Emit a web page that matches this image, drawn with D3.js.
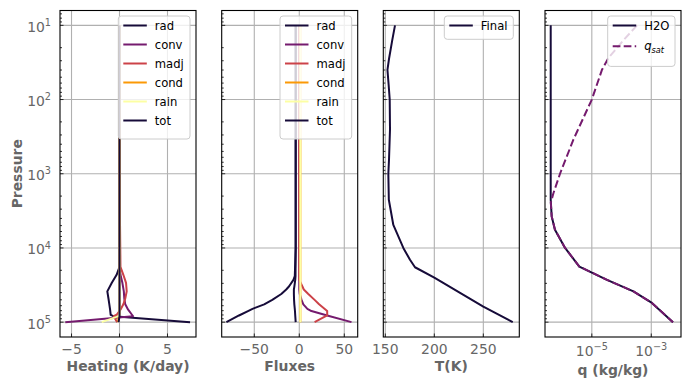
<!DOCTYPE html>
<html>
<head>
<meta charset="utf-8">
<script src="https://cdn.jsdelivr.net/npm/d3@7"></script>
<style>
  body { margin: 0; background: #fff; }
  svg { display: block; }
  text { font-family: "DejaVu Sans", sans-serif; }
</style>
</head>
<body>
<script>
// heating rates (K/day) on pressure levels (Pa)
const heatP    = [10, 1000, 18000, 23000, 29500, 38500, 48000, 57500, 68000, 79500, 83000, 100000];
const heatRad  = [0, 0, 0, -0.3, -0.8, -1.27, -1.15, -1.06, -0.98, -0.92, -0.64, 7.35];
const heatConv = [0, 0, 0, 0.1, 0.3, 0.45, 0.5, 0.6, 0.9, 1.3, 1.4, -5.65];
const heatMadj = [0, 0, 0.1, 0.4, 0.68, 0.75, 0.6, 0.4, 0.1, -0.3, -0.6, -0.25];
const heatCond = [0, 0, 0, 0, 0, 0, 0, 0, 0, 0, -0.1, -0.15];
const heatRain = [0, 0, 0, 0, 0, 0, 0, 0, 0, 0, -0.1, -1.85];
const heatTot  = [0, 0, 0, 0, 0, 0, 0, 0, 0, 0, 0, -0.1];

// fluxes
const fluxP    = [10, 1000, 10000, 24000, 26900, 33100, 36300, 41700, 50100, 57500, 66100, 70800, 81300, 100000];
const fluxRad  = [-4, -4, -4, -5, -6.5, -11.5, -14.5, -20, -30, -39, -52, -57, -67, -81];
const fluxConv = [0, 0, 0, 0, 0, 0, 0, 0.5, 2.5, 4.5, 9, 13.5, 31, 58];
const fluxMadj = [0, 0, 0, 0, 0, 3.5, 5, 10, 17, 22, 28, 31, 31, 17];
const fluxCond = [1.2, 1.2, 1.2, 1.2, 1.2, 1.2, 1.2, 1.2, 1.2, 1.2, 1.2, 1.2, 1.2, 1.2];
const fluxRain = [1.2, 1.2, 1.2, 1.2, 1.2, 1.2, 1.2, 1.2, 1.2, 1.2, 1.2, 1.2, 1.2, 1.2];
const fluxTot  = [-4, -4, -4, -4.2, -4.5, -5.5, -6, -6, -5.8, -5.5, -5, -4.8, -4.5, -4];

// temperature (K)
const tempP     = [10, 15.8, 28.2, 39.8, 63.1, 100, 251, 631, 1000, 2240, 4900, 10000, 14450, 18200, 25100, 61700, 100000];
const tempFinal = [159.9, 157.1, 153.8, 152.2, 153.4, 154.5, 154.8, 153.8, 153.1, 153.6, 158.2, 168.4, 175.2, 180.3, 200, 250, 280];

// specific humidity (kg/kg)
const h2oP = [10, 2240, 3760, 5680, 10000, 17800, 26900, 38500, 55000, 100000];
const h2oQ = [4.14e-7, 4.14e-7, 4.47e-7, 5.75e-7, 1.26e-6, 3.80e-6, 3.24e-5, 2.51e-4, 1.05e-3, 5.37e-3];
const qsatP = [10, 15.8, 27.5, 39.8, 100, 347, 1000, 1820, 2450, 3760, 5680, 10000, 17800, 26900, 38500, 55000, 100000];
const qsatQ = [3.31e-4, 1.17e-4, 3.63e-5, 2.19e-5, 1.0e-5, 2.40e-6, 8.51e-7, 5.13e-7, 4.17e-7, 4.47e-7, 5.75e-7, 1.26e-6, 3.80e-6, 3.24e-5, 2.51e-4, 1.05e-3, 5.37e-3];

const termNames = ["rad", "conv", "madj", "cond", "rain", "tot"];
const yTicks = [10, 100, 1000, 10000, 100000];

const cmap = [0.1, 0.325, 0.55, 0.775, 1.0].map(d3.interpolateInferno);
const termColors = [...cmap, cmap[0]];
const textCol = "#666666";

const yTop = 10.5, yBot = 337, pw = 136;
const lefts = [60, 221.7, 383.3, 545];

const svg = d3.select("body").append("svg").attr("width", 690).attr("height", 390);
const y = d3.scaleLog().domain([Math.pow(10, 0.8), Math.pow(10, 5.2)]).range([yTop, yBot]);

const xs = [
  d3.scaleLinear().domain([-6.2, 7.97]).range([lefts[0], lefts[0] + pw]),
  d3.scaleLinear().domain([-86.2, 64.9]).range([lefts[1], lefts[1] + pw]),
  d3.scaleLinear().domain([147.96, 286.7]).range([lefts[2], lefts[2] + pw]),
  d3.scaleLog().domain([Math.pow(10, -6.575), Math.pow(10, -2.0)]).range([lefts[3], lefts[3] + pw])
];
const xTicks = [[-5, 0, 5], [-50, 0, 50], [150, 200, 250], [1e-5, 1e-3]];
const xLabels = ["Heating (K/day)", "Fluxes", "T(K)", "q (kg/kg)"];

function supLabel(g, x, yb, exp, anchor) {
  const t = g.append("text").attr("x", x).attr("y", yb).attr("text-anchor", anchor)
    .attr("fill", textCol).style("font-size", "13.9px");
  t.append("tspan").text("10");
  t.append("tspan").attr("dy", -5.7).style("font-size", "9.7px").text(exp);
}

function panel(i, series) {
  const x = xs[i];
  const g = svg.append("g");
  const x0 = lefts[i], x1 = lefts[i] + pw;

  // grid
  g.selectAll(".gx").data(xTicks[i]).join("line")
    .attr("x1", d => x(d)).attr("x2", d => x(d)).attr("y1", yTop).attr("y2", yBot)
    .attr("stroke", "#b0b0b0").attr("stroke-width", 1.1);
  g.selectAll(".gy").data(yTicks).join("line")
    .attr("x1", x0).attr("x2", x1).attr("y1", d => y(d)).attr("y2", d => y(d))
    .attr("stroke", "#b0b0b0").attr("stroke-width", 1.1);

  // clipped lines
  const cid = "clip" + i;
  svg.append("clipPath").attr("id", cid).append("rect")
    .attr("x", x0).attr("y", yTop).attr("width", pw).attr("height", yBot - yTop);
  const lg = g.append("g").attr("clip-path", `url(#${cid})`);
  series.forEach(s => {
    const line = d3.line().x(d => x(d[0])).y(d => y(d[1]));
    lg.append("path").datum(s.v.map((v, k) => [v, s.p[k]]))
      .attr("d", line).attr("fill", "none").attr("stroke", s.color)
      .attr("stroke-width", 2).attr("stroke-dasharray", s.dash || null)
      .attr("stroke-linejoin", "round");
  });

  // ticks, pointing inward
  const minor = y.ticks().filter(d => yTicks.indexOf(d) < 0);
  g.selectAll(".ym").data(minor).join("line")
    .attr("x1", x0).attr("x2", x0 + 2).attr("y1", d => y(d)).attr("y2", d => y(d))
    .attr("stroke", "#000").attr("stroke-width", 0.8);
  g.selectAll(".yM").data(yTicks).join("line")
    .attr("x1", x0).attr("x2", x0 + 3.5).attr("y1", d => y(d)).attr("y2", d => y(d))
    .attr("stroke", "#000").attr("stroke-width", 0.8);
  g.selectAll(".xM").data(xTicks[i]).join("line")
    .attr("x1", d => x(d)).attr("x2", d => x(d)).attr("y1", yBot).attr("y2", yBot - 3.5)
    .attr("stroke", "#000").attr("stroke-width", 0.8);

  // tick labels
  if (i < 3) {
    g.selectAll(".xl").data(xTicks[i]).join("text")
      .attr("x", d => x(d)).attr("y", 353.5).attr("text-anchor", "middle")
      .attr("fill", textCol).style("font-size", "13.9px")
      .text(d => d3.format("d")(d));
    g.append("text").attr("x", (x0 + x1) / 2).attr("y", 371).attr("text-anchor", "middle")
      .attr("fill", textCol).style("font-size", "13.9px").style("font-weight", "bold")
      .text(xLabels[i]);
  } else {
    xTicks[i].forEach(d => supLabel(g, x(d), 355.5, "\u2212" + Math.round(-Math.log10(d)), "middle"));
    g.append("text").attr("x", (x0 + x1) / 2).attr("y", 374.5).attr("text-anchor", "middle")
      .attr("fill", textCol).style("font-size", "13.9px").style("font-weight", "bold")
      .text(xLabels[i]);
  }
  if (i === 0) {
    yTicks.forEach(d => supLabel(g, 51, y(d) + 6.4, String(Math.round(Math.log10(d))), "end"));
    g.append("text").attr("transform", `translate(21.5,${(yTop + yBot) / 2}) rotate(-90)`)
      .attr("text-anchor", "middle").attr("fill", textCol)
      .style("font-size", "13.9px").style("font-weight", "bold").text("Pressure");
  }
  return g;
}

function legend(g, entries, right, width, rowH) {
  const bx = right - width, by = 16;
  const h = 6 + rowH * entries.length + 3;
  g.append("rect").attr("x", bx).attr("y", by).attr("width", width).attr("height", h)
    .attr("rx", 3).attr("fill", "#fff").attr("fill-opacity", 0.8)
    .attr("stroke", "#cccccc").attr("stroke-width", 1);
  entries.forEach((e, k) => {
    const cy = by + 9.5 + k * rowH;
    g.append("line").attr("x1", bx + 5).attr("x2", bx + 28.5).attr("y1", cy).attr("y2", cy)
      .attr("stroke", e.color).attr("stroke-width", 2).attr("stroke-dasharray", e.dash || null);
    const t = g.append("text").attr("x", bx + 36.5).attr("y", cy + 4)
      .attr("fill", "#000").style("font-size", "11.6px");
    if (e.sub) {
      t.append("tspan").style("font-style", "italic").text(e.label);
      t.append("tspan").attr("dy", 2.5).style("font-style", "italic").style("font-size", "8.2px").text(e.sub);
    } else {
      t.text(e.label);
    }
  });
}

const heatVals = [heatRad, heatConv, heatMadj, heatCond, heatRain, heatTot];
const fluxVals = [fluxRad, fluxConv, fluxMadj, fluxCond, fluxRain, fluxTot];
const termEntries = termNames.map((n, k) => ({ label: n, color: termColors[k] }));

const g0 = panel(0, heatVals.map((v, k) => ({ p: heatP, v, color: termColors[k] })));
legend(g0, termEntries, lefts[0] + pw - 6, 71.7, 19);

const g1 = panel(1, fluxVals.map((v, k) => ({ p: fluxP, v, color: termColors[k] })));
legend(g1, termEntries, lefts[1] + pw - 6, 71.7, 19);

const g2 = panel(2, [{ p: tempP, v: tempFinal, color: cmap[0] }]);
legend(g2, [{ label: "Final", color: cmap[0] }], lefts[2] + pw - 6, 69, 14.3);

const g3 = panel(3, [
  { p: h2oP, v: h2oQ, color: cmap[0] },
  { p: qsatP, v: qsatQ, color: cmap[1], dash: "7.7,3.3" }
]);
legend(g3, [{ label: "H2O", color: cmap[0] }, { label: "q", sub: "sat", color: cmap[1], dash: "7.7,3.3" }],
  lefts[3] + pw - 6, 67.3, 20.7);

// spines on top
lefts.forEach(l => svg.append("rect").attr("x", l).attr("y", yTop).attr("width", pw)
  .attr("height", yBot - yTop).attr("fill", "none").attr("stroke", "#000").attr("stroke-width", 1.1));
</script>
</body>
</html>
